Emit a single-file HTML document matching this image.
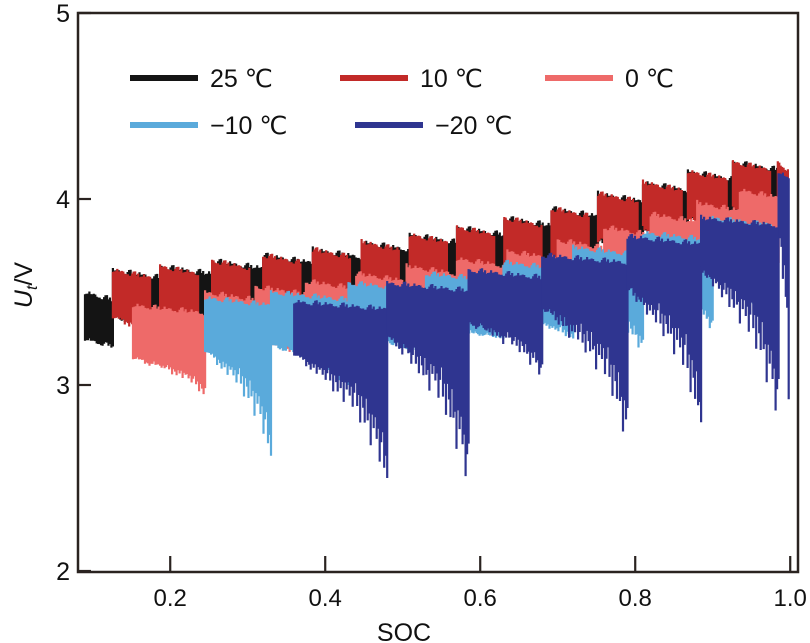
<!DOCTYPE html>
<html><head><meta charset="utf-8"><style>
body{margin:0;background:#fff;}
svg{display:block;font-family:"Liberation Sans",sans-serif;}
</style></head><body>
<svg id="chart" width="810" height="643" viewBox="0 0 810 643">
<g id="marks"></g>
<g id="axes"></g>
<g id="legend"></g>
</svg>
<script>
// ---- data (per-cycle values) ----
const blackStarts=[0.09,0.126,0.187,0.254,0.320,0.384,0.447,0.509,0.570,0.631,0.692,0.752,0.810,0.868,0.926];
const blackEnds  =[0.126,0.187,0.254,0.320,0.384,0.447,0.509,0.570,0.631,0.692,0.752,0.810,0.868,0.926,0.985];
const blackTops  =[3.50,3.62,3.64,3.67,3.70,3.73,3.77,3.81,3.85,3.90,3.95,4.03,4.09,4.15,4.20];
const blackMins  =[3.22,3.25,3.30,3.33,3.36,3.40,3.44,3.48,3.52,3.57,3.62,3.70,3.76,3.82,3.88];

const redStarts=[0.126,0.187,0.254,0.320,0.384,0.447,0.509,0.570,0.631,0.692,0.752,0.810,0.868,0.926,0.984];
const redEnds  =[0.174,0.236,0.302,0.368,0.432,0.495,0.557,0.618,0.679,0.740,0.803,0.860,0.918,0.974,0.997];
const redTops  =[3.62,3.64,3.67,3.70,3.73,3.77,3.81,3.85,3.90,3.95,4.03,4.09,4.15,4.20,4.20];
const redMins  =[3.19,3.25,3.30,3.33,3.36,3.40,3.44,3.48,3.52,3.57,3.62,3.70,3.76,3.82,3.88];

const pinkStarts=[0.152,0.245,0.310,0.375,0.440,0.505,0.570,0.635,0.700,0.760,0.820,0.880,0.935];
const pinkEnds  =[0.245,0.310,0.375,0.440,0.505,0.570,0.635,0.700,0.760,0.820,0.880,0.935,0.985];
const pinkTops  =[3.43,3.50,3.53,3.56,3.60,3.64,3.68,3.72,3.78,3.85,3.92,3.98,4.05];
const pinkMins  =[2.95,3.10,3.15,3.20,3.25,3.30,3.35,3.38,3.42,3.48,3.55,3.60,3.65];

const lblueStarts=[0.245,0.330,0.430,0.530,0.630,0.720,0.810,0.900];
const lblueEnds  =[0.330,0.430,0.530,0.630,0.720,0.810,0.900,0.975];
const lblueTops  =[3.47,3.50,3.55,3.60,3.66,3.74,3.82,3.90];
const lblueMins  =[2.62,3.00,3.15,3.25,3.25,3.20,3.30,3.30];

const dblueStarts=[0.360,0.480,0.585,0.680,0.790,0.885,0.985];
const dblueEnds  =[0.480,0.585,0.680,0.790,0.885,0.985,0.998];
const dblueTops  =[3.45,3.55,3.62,3.70,3.80,3.90,4.15];
const dblueMins  =[2.50,2.50,3.05,2.75,2.80,2.85,2.90];

const dipProfile=[0.1,0.5,0.2,0.8,0.3,0.0,0.6,0.25,0.9,0.15,0.4,0.7,0.05,0.55,0.35,1.0,0.2,0.45];

const xTicks=[0.2,0.4,0.6,0.8,1.0];
const xTickLabels=["0.2","0.4","0.6","0.8","1.0"];
const yTicks=[2,3,4,5];
const yTickLabels=["2","3","4","5"];
const legendLabels=["25 ℃","10 ℃","0 ℃","\u221210 ℃","\u221220 ℃"];

// ---- scales ----
const X0=78,X1=798,Y0=13,Y1=572;
function xs(s){return X0+(s-0.081)*775;}
function ys(v){return Y0+(5-v)*186;}

const NS="http://www.w3.org/2000/svg";
function mk(tag,attrs,parent){const e=document.createElementNS(NS,tag);for(const k in attrs)e.setAttribute(k,attrs[k]);parent.appendChild(e);return e;}

const marks=document.getElementById('marks');
function drawSeries(name,color,starts,ends,tops,mins,deep){
  const g=mk('g',{},marks);
  
  
  for(let c=0;c<starts.length;c++){
    const x0=xs(starts[c]),x1=xs(ends[c]);
    const n=Math.max(2,Math.round((x1-x0)/1.5));
    let d='';
    for(let i=0;i<=n;i++){
      const t=i/n;
      const s=starts[c]+(ends[c]-starts[c])*t;
      const p=dipProfile[(i+c*5)%dipProfile.length];
      const q=dipProfile[(i*7+c*3)%dipProfile.length];
      const top=tops[c]-0.04*t+(q-0.5)*0.03;
      let bot;
      if(deep){
        const base=top-0.28;
        const reach=0.25*t+p*0.45*t+Math.pow(t,6)*0.5;
        bot=base-(base-mins[c])*Math.min(1,reach);
      }else{
        const base=top-0.25;
        bot=base-(base-mins[c])*p*0.5*t;
      }
      d+=`M${xs(s).toFixed(1)} ${ys(top).toFixed(1)}V${ys(bot).toFixed(1)}`;
    }
    const path=mk('path',{d:d,stroke:color,'stroke-width':2.2,fill:'none'},g);
    
    
  }
}
drawSeries('temp-25c','#141414',blackStarts,blackEnds,blackTops,blackMins,false);
drawSeries('temp-10c','#c22a28',redStarts,redEnds,redTops,redMins,false);
drawSeries('temp-0c','#ee6a69',pinkStarts,pinkEnds,pinkTops,pinkMins,true);
drawSeries('temp-minus10c','#5aaadb',lblueStarts,lblueEnds,lblueTops,lblueMins,true);
drawSeries('temp-minus20c','#2f3590',dblueStarts,dblueEnds,dblueTops,dblueMins,true);

// ---- axes ----
const axes=document.getElementById('axes');
const frame=mk('rect',{x:X0,y:Y0,width:X1-X0,height:Y1-Y0,fill:'none',stroke:'#2a2320','stroke-width':2.5},axes);

xTicks.forEach((v,i)=>{
  const x=xs(v);
  const t=mk('line',{x1:x,x2:x,y1:Y1,y2:Y1-16,stroke:'#2a2320','stroke-width':2.2},axes);
  
  const l=mk('text',{x:x,y:Y1+34,'font-size':24,'text-anchor':'middle',fill:'#111'},axes);
  l.textContent=xTickLabels[i];
  
});
yTicks.forEach((v,i)=>{
  const y=ys(v);
  const t=mk('line',{x1:X0,x2:X0+13,y1:y,y2:y,stroke:'#2a2320','stroke-width':2.2},axes);
  
  const l=mk('text',{x:X0-8,y:y+9,'font-size':25,'text-anchor':'end',fill:'#111'},axes);
  l.textContent=yTickLabels[i];
  
});
const xt=mk('text',{x:404,y:641,'font-size':25,'text-anchor':'middle',fill:'#111'},axes);
xt.textContent='SOC';
const yt=mk('text',{transform:'translate(32,285) rotate(-90)','font-size':25,'text-anchor':'middle',fill:'#111'},axes);
yt.innerHTML='<tspan font-style="italic">U</tspan><tspan font-style="italic" font-size="16" dy="5">t</tspan><tspan dy="-5">/V</tspan>';


// ---- legend ----
const leg=document.getElementById('legend');
const legColors=['#141414','#c22a28','#ee6a69','#5aaadb','#2f3590'];
const legPos=[[130,78],[340,78],[545,78],[130,125],[355,125]];
legendLabels.forEach((lab,i)=>{
  const [x,y]=legPos[i];
  const g=mk('g',{},leg);
  
  mk('line',{x1:x,x2:x+68,y1:y,y2:y,stroke:legColors[i],'stroke-width':6},g);
  const t=mk('text',{x:x+80,y:y+9,'font-size':25,fill:'#111'},g);
  t.textContent=lab;
});
</script>
</body></html>
